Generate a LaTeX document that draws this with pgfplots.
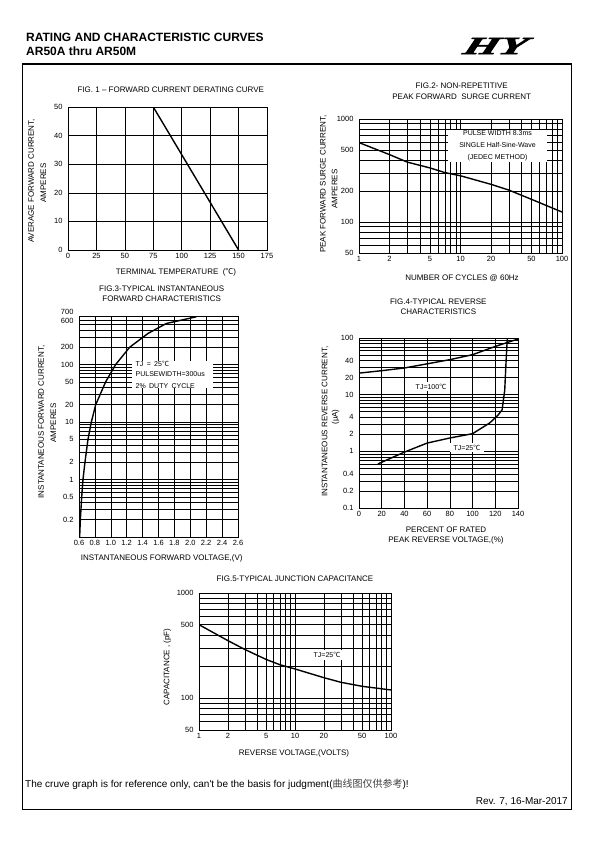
\documentclass[border=0pt]{standalone}
\usepackage{fontspec}
\setmainfont{Liberation Sans}
\newfontfamily\cjk{Noto Sans CJK SC}
\newfontfamily\logofont{Liberation Serif}[BoldItalicFeatures={FakeBold=2.5}]
\usepackage{pgfplots}
\pgfplotsset{compat=1.18}
\newcommand{\degC}{{\cjk ℃}}
\newcommand{\lab}{\fontsize{8}{9.5}\selectfont}
\newcommand{\ann}{\fontsize{7}{9.5}\selectfont}
\pgfplotsset{ds/.style={scale only axis, anchor=south west,
  axis line style={black, line width=0.9pt},
  grid=both,
  major grid style={black, line width=0.55pt},
  minor grid style={black, line width=0.55pt},
  major tick length=0pt, minor tick length=0pt,
  tick style={draw=none},
  ticklabel style={font=\fontsize{7.5}{8}\selectfont},
  yticklabel style={xshift=-2pt},
  /pgf/number format/assume math mode=true,
  clip=true}}
\pgfplotsset{curve/.style={black, line width=1.4pt, line join=round, no marks}}
\begin{document}
\begin{tikzpicture}
\path[use as bounding box] (0pt,0pt) rectangle (595pt,-842pt);
% header
\node[anchor=base west, inner sep=0pt] at (26pt,-41.5pt) {\fontsize{12}{13}\selectfont\bfseries RATING AND CHARACTERISTIC CURVES};
\node[anchor=base west, inner sep=0pt] at (26pt,-56pt) {\fontsize{12}{13}\selectfont\bfseries AR50A thru AR50M};
\node[xscale=1.8, xslant=0.2, inner sep=0pt] at (496pt,-46pt) {\fontsize{25}{25}\selectfont\logofont\bfseries\itshape HY};
\draw[line width=2pt] (22pt,-64pt) -- (572pt,-64pt);
\draw[line width=0.8pt] (22pt,-64pt) -- (22pt,-809pt) -- (571pt,-809pt) -- (571pt,-64pt);

% ---------- FIG 1
\begin{axis}[ds, at={(68pt,-250pt)}, width=199pt, height=143pt,
  xmin=0, xmax=175, ymin=0, ymax=50,
  xtick={0,25,...,175}, ytick={0,10,...,50}, grid=major]
\addplot[curve] coordinates {(0,50) (75,50) (150,0)};
\end{axis}
\node at (170.8pt,-90pt) {\lab FIG. 1 – FORWARD CURRENT DERATING CURVE};
\node at (176pt,-272.7pt) {\lab TERMINAL TEMPERATURE\ \ (\degC)};
\node[rotate=90] at (31.7pt,-181pt) {\lab AVERAGE FORWARD CURRENT,};
\node[rotate=90] at (43.3pt,-183pt) {\lab AMPERES};

% ---------- FIG 2
\begin{axis}[ds, at={(359pt,-253pt)}, width=203pt, height=134pt,
  xmode=log, ymode=log, xmin=1, xmax=100, ymin=50, ymax=1000,
  xtick={1,2,5,10,20,50,100}, xticklabels={1,2,5,10,20,50,100},
  minor xtick={3,4,6,7,8,9,30,40,60,70,80,90},
  ytick={50,100,200,500,1000}, yticklabels={50,100,200,500,1000},
  minor ytick={60,70,80,90,300,400,600,700,800,900}]
\addplot[curve] coordinates {(1,590) (2,451) (3,381) (5,335) (7,302) (10,281) (20,232) (30,204) (50,166) (100,125)};
\end{axis}
\node[fill=white, minimum width=99pt, minimum height=32pt, align=center, inner sep=0pt] at (497.5pt,-146pt)
  {\ann PULSE WIDTH 8.3ms\\ \ann SINGLE Half-Sine-Wave\\ \ann (JEDEC METHOD)};
\node at (461.7pt,-86pt) {\lab FIG.2- NON-REPETITIVE};
\node at (461.7pt,-96.7pt) {\lab PEAK FORWARD\ \ SURGE CURRENT};
\node at (462pt,-278pt) {\lab NUMBER OF CYCLES @ 60Hz};
\node[rotate=90] at (323.3pt,-184pt) {\lab PEAK FORWARD SURGE CURRENT,};
\node[rotate=90] at (334.5pt,-189pt) {\lab AMPERES};

% ---------- FIG 3
\begin{axis}[ds, at={(79pt,-537pt)}, width=159pt, height=221pt,
  ymode=log, xmin=0.6, xmax=2.6, ymin=0.1, ymax=700,
  xtick={0.6,0.8,...,2.61}, xticklabels={0.6,0.8,1.0,1.2,1.4,1.6,1.8,2.0,2.2,2.4,2.6},
  ytick={0.2,0.5,1,2,5,10,20,50,100,200,600,700},
  yticklabels={0.2,0.5,1,2,5,10,20,50,100,200,\smash{\raisebox{-3.4pt}{600}},\smash{\raisebox{1.8pt}{700}}},
  minor ytick={0.1,0.3,0.4,0.6,0.7,0.8,0.9,3,4,6,7,8,9,30,40,60,70,80,90,300,400,500}]
\addplot[curve] coordinates {(0.608,0.1) (0.617,0.2) (0.634,0.5) (0.650,1) (0.675,2) (0.713,5) (0.755,10) (0.810,20) (0.935,50) (1.061,100) (1.237,200) (1.468,348) (1.699,519) (2.076,678)};
\end{axis}
\node[fill=white, text width=73pt, minimum height=26.3pt, align=left, inner xsep=4pt, inner ysep=0pt] at (172.2pt,-374.8pt)
  {\ann TJ = 25\degC\\ \ann PULSEWIDTH=300us\\ \ann 2\% DUTY CYCLE};
\node at (161.7pt,-288.3pt) {\lab FIG.3-TYPICAL INSTANTANEOUS};
\node at (161.7pt,-298.3pt) {\lab FORWARD CHARACTERISTICS};
\node at (161.7pt,-558.3pt) {\lab INSTANTANEOUS FORWARD VOLTAGE,(V)};
\node[rotate=90] at (41.7pt,-422pt) {\lab INSTANTANEOUS FORWARD CURRENT,};
\node[rotate=90] at (53.3pt,-423pt) {\lab AMPERES};

% ---------- FIG 4
\begin{axis}[ds, at={(359pt,-508pt)}, width=159pt, height=170pt,
  ymode=log, xmin=0, xmax=140, ymin=0.1, ymax=100,
  xtick={0,20,...,140},
  ytick={0.1,0.2,0.4,1,2,4,10,20,40,100},
  yticklabels={0.1,0.2,0.4,1,2,4,10,20,40,100},
  minor ytick={0.3,0.5,0.6,0.7,0.8,0.9,3,5,6,7,8,9,30,50,60,70,80,90}]
\addplot[curve] coordinates {(0,24) (20,26.5) (40,29.6) (60,35) (80,41.5) (100,50.8) (120,71) (140,96)};
\addplot[curve] coordinates {(16.7,0.6) (40,0.97) (60,1.4) (80,1.72) (100,2.05) (115,3.16) (122,4.26) (126,5.4) (128.3,12) (129.7,47) (130.6,100)};
\end{axis}
\node[fill=white, inner xsep=3pt, inner ysep=2pt] at (431pt,-386.7pt) {\ann TJ=100\degC};
\node[fill=white, inner xsep=4pt, inner ysep=2pt] at (467pt,-447.7pt) {\ann TJ=25\degC};
\node at (438.3pt,-301.7pt) {\lab FIG.4-TYPICAL REVERSE};
\node at (438.3pt,-311.7pt) {\lab CHARACTERISTICS};
\node at (446pt,-530pt) {\lab PERCENT OF RATED};
\node at (446pt,-540.7pt) {\lab PEAK REVERSE VOLTAGE,(\%)};
\node[rotate=90] at (325pt,-421.7pt) {\lab INSTANTANEOUS REVERSE CURRENT,};
\node[rotate=90] at (335.5pt,-417pt) {\lab (μA)};

% ---------- FIG 5
\begin{axis}[ds, at={(199pt,-730pt)}, width=192pt, height=137pt,
  xmode=log, ymode=log, xmin=1, xmax=100, ymin=50, ymax=1000,
  xtick={1,2,5,10,20,50,100}, xticklabels={1,2,5,10,20,50,100},
  minor xtick={3,4,6,7,8,9,30,40,60,70,80,90},
  ytick={50,100,500,1000}, yticklabels={50,100,500,1000},
  minor ytick={60,70,80,90,200,300,400,600,700,800,900}]
\addplot[curve] coordinates {(1,500) (2,353) (3,291) (5,234) (7,208) (10,190) (20,157) (30,142) (50,130) (100,120)};
\end{axis}
\node[fill=white, inner xsep=3pt, inner ysep=2pt] at (327pt,-655pt) {\ann TJ=25\degC};
\node at (295pt,-578.3pt) {\lab FIG.5-TYPICAL JUNCTION CAPACITANCE};
\node at (294pt,-753.3pt) {\lab REVERSE VOLTAGE,(VOLTS)};
\node[rotate=90] at (167.3pt,-667pt) {\lab CAPACITANCE , (pF)};

% footer
\node[anchor=base west, inner sep=0pt] at (25pt,-787pt) {\fontsize{10}{11}\selectfont The cruve graph is for reference only, can\textquotesingle t be the basis for judgment({\cjk\color{black!75}曲线图仅供参考})!};
\node[anchor=base east, inner sep=0pt] at (568pt,-804pt) {\fontsize{10}{11}\selectfont Rev. 7, 16-Mar-2017};
\end{tikzpicture}
\end{document}
